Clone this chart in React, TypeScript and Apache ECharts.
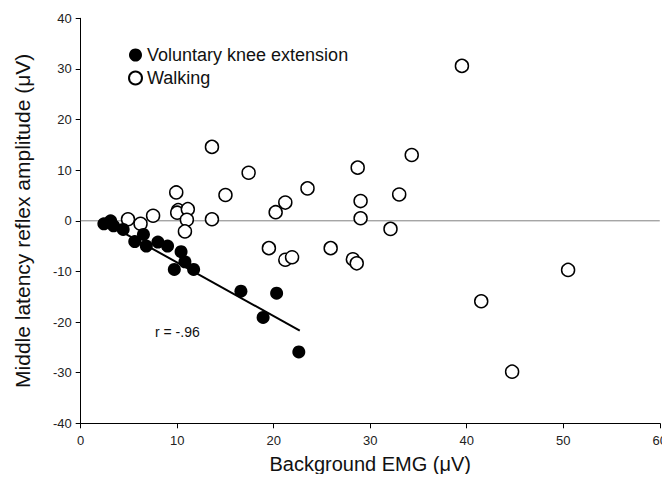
import React, { useEffect, useRef } from "react";
import * as echarts from "echarts";

const voluntaryX = [2.4, 3.1, 3.4, 4.4, 5.6, 6.5, 6.8, 8.0, 9.0, 10.4, 10.8, 9.7, 11.7, 16.6, 20.3, 18.9, 22.6];
const voluntaryY = [-0.6, 0.0, -1.0, -1.7, -4.1, -2.7, -5.0, -4.2, -5.0, -6.1, -8.1, -9.6, -9.6, -13.9, -14.3, -19.1, -25.9];

const walkingX = [4.9, 6.2, 7.5, 9.9, 10.1, 10.0, 11.1, 11.0, 10.8, 13.6, 13.6, 15.0, 17.4, 19.5, 20.2, 21.2, 21.2, 21.9, 23.5, 25.9, 28.2, 28.6, 28.7, 29.0, 29.0, 32.1, 33.0, 34.3, 39.5, 41.5, 44.7, 50.5];
const walkingY = [0.3, -0.6, 1.0, 5.6, 2.1, 1.6, 2.3, 0.2, -2.1, 14.6, 0.3, 5.1, 9.5, -5.4, 1.7, 3.6, -7.7, -7.2, 6.4, -5.4, -7.6, -8.4, 10.5, 3.9, 0.5, -1.6, 5.2, 13.0, 30.6, -15.9, -29.8, -9.7];

const fitX = [2.5, 22.7];
const fitY = [-0.3, -21.7];

const xTicks = { min: 0, max: 60, interval: 10 };
const yTicks = { min: -40, max: 40, interval: 10 };

const seriesNames = ["Voluntary knee extension", "Walking"];
const corrLabel = "r = -.96";
const xTitle = "Background EMG (\u03bcV)";
const yTitle = "Middle latency reflex amplitude (\u03bcV)";

const FONT = "'Liberation Sans', Arial, Helvetica, sans-serif";

export default function App() {
  const ref = useRef<HTMLDivElement>(null);
  useEffect(() => {
    if (!ref.current) return;
    const chart = echarts.init(ref.current, undefined, { renderer: "svg" });
    const axisCommon = {
      axisLine: { onZero: false, lineStyle: { color: "#000", width: 1 } },
      axisTick: { show: true, inside: false, length: 5, lineStyle: { color: "#000" } },
      splitLine: { show: false },
      axisLabel: { color: "#222", fontSize: 13, fontFamily: FONT },
      nameTextStyle: { color: "#111", fontSize: 20, fontFamily: FONT },
    };
    chart.setOption({
      animation: false,
      backgroundColor: "#fff",
      grid: { left: 80.7, right: 8.2, top: 18.3, bottom: 58.7 },
      xAxis: {
        type: "value",
        ...xTicks,
        ...axisCommon,
        axisLabel: { ...axisCommon.axisLabel, margin: 11 },
        name: xTitle,
        nameLocation: "middle",
        nameGap: 31,
      },
      yAxis: {
        type: "value",
        ...yTicks,
        ...axisCommon,
        axisLabel: { ...axisCommon.axisLabel, margin: 9 },
        name: yTitle,
        nameLocation: "middle",
        nameGap: 48,
        nameTextStyle: { color: "#111", fontSize: 21, fontFamily: FONT },
      },
      legend: {
        orient: "vertical",
        left: 123,
        top: 41,
        itemWidth: 13,
        itemHeight: 13,
        itemGap: 5,
        icon: "circle",
        textStyle: { fontSize: 18, color: "#111", fontFamily: FONT },
        data: seriesNames,
      },
      graphic: [
        {
          type: "text",
          left: 155,
          top: 325,
          style: { text: corrLabel, fontSize: 14, fill: "#111", fontFamily: FONT },
        },
      ],
      series: [
        {
          type: "line",
          data: [[xTicks.min, 0], [xTicks.max, 0]],
          showSymbol: false,
          symbol: "none",
          lineStyle: { color: "#808080", width: 1 },
          silent: true,
          z: 1,
        },
        {
          type: "line",
          data: fitX.map((x, i) => [x, fitY[i]]),
          symbol: "none",
          lineStyle: { color: "#000", width: 2 },
          silent: true,
          z: 2,
        },
        {
          name: seriesNames[1],
          type: "scatter",
          data: walkingX.map((x, i) => [x, walkingY[i]]),
          symbol: "circle",
          symbolSize: 13,
          itemStyle: { color: "#fff", borderColor: "#000", borderWidth: 1.5, opacity: 1 },
          z: 3,
        },
        {
          name: seriesNames[0],
          type: "scatter",
          data: voluntaryX.map((x, i) => [x, voluntaryY[i]]),
          symbol: "circle",
          symbolSize: 13,
          itemStyle: { color: "#000", opacity: 1 },
          z: 4,
        },
      ],
    });
    return () => chart.dispose();
  }, []);
  return <div ref={ref} style={{ width: 670, height: 482, margin: -8 }} />;
}
